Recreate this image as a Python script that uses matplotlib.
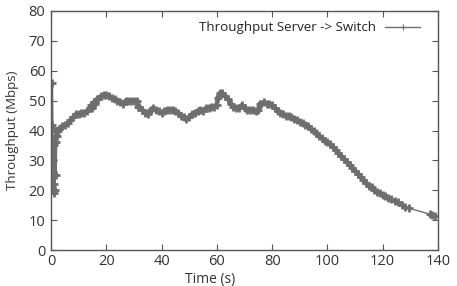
import matplotlib
matplotlib.use("Agg")
import matplotlib.pyplot as plt

# Data
time_s = [0.3, 0.5, 0.6, 0.7, 0.8, 0.9, 1.0, 1.1, 1.2, 1.3, 1.5, 1.7, 1.9, 2.0, 2.2,
          2.5, 3, 4, 5, 6, 7, 8, 9, 10, 11, 12, 13, 14, 14.5, 15, 15.5, 16, 16.5, 17, 18,
          19, 20, 21, 22, 23, 24, 25, 26, 27, 28, 29, 30, 31, 31.5, 32, 33, 34, 35, 36,
          37, 38, 39, 40, 41, 42, 43, 44, 45, 46, 47, 48, 49, 50, 51, 52, 53, 54, 55, 56,
          57, 58, 59, 60, 60.3, 61, 62, 63, 64, 65, 66, 67, 68, 69, 70, 71, 72, 73, 74, 75,
          75.5, 76, 77, 78, 79, 80, 81, 82, 83, 84, 85, 86, 87, 88, 89, 90, 91, 92, 93, 94,
          95, 96, 97, 98, 99, 100, 101, 102, 103, 104, 105, 106, 107, 108, 109, 110, 111,
          112, 113, 114, 115, 116, 117, 118, 119, 120, 121, 122, 123, 124.5, 125.5, 127,
          128, 129.5, 137, 138, 139]
throughput = [42, 56, 41, 30, 20, 25, 19, 35, 22, 38, 20, 36, 25, 38, 40,
              40, 40.5, 41.5, 42, 42.5, 43.5, 44.5, 45.5, 45.5, 46, 46, 46.5, 47.5, 48.5, 47.5, 49.5, 49, 50.5, 50.5, 51.5,
              52, 52, 51.5, 51, 50.5, 50, 49.5, 49, 50, 50, 50, 50, 50, 48, 48, 47, 46, 45.5, 47,
              47.5, 47, 46.5, 46, 46.5, 47, 47, 47, 46.5, 46, 45, 44.5, 44, 44.5, 45.5, 46, 46.5, 47, 46.5, 47.5,
              47.5, 48, 48, 48.5, 51, 52.5, 52.5, 51.5, 50.5, 49, 48, 47.5, 47.5, 48.5, 47.5, 47, 47, 47, 46.5, 47,
              49, 49, 49.5, 49, 49, 48.5, 47.5, 46.5, 46, 45.5, 45, 45, 44.5, 44, 43.5, 43, 42.5, 42, 41.5, 40.5,
              40, 39, 38, 37.5, 36.5, 36, 35.5, 34.5, 33.5, 32.5, 31.5, 30.5, 29.5, 28.5, 27.5, 26.5, 25.5,
              24.5, 23.5, 22.5, 21.5, 21, 20, 19.5, 19, 18.5, 18, 17.5, 17, 16.5, 16, 15,
              14.5, 14, 12, 11.8, 11.5]
series_label = "Throughput Server -> Switch"
x_ticks = [0, 20, 40, 60, 80, 100, 120, 140]
y_ticks = [0, 10, 20, 30, 40, 50, 60, 70, 80]
dense_until = 116  # samples are very dense (overlapping) before this time

plt.rcParams['font.family'] = ['Open Sans', 'DejaVu Sans']

fig = plt.figure(figsize=(4.57, 2.86), dpi=100)
ax = fig.add_axes([51/457, 1 - 250/286, 387/457, 239/286])

line_color = '#6e6e6e'
n_dense = sum(1 for t in time_s if t <= dense_until)
# dense region: overlapping markers form a thick band
ax.plot(time_s[15:n_dense], throughput[15:n_dense], color=line_color, lw=3.2,
        solid_capstyle='round', solid_joinstyle='round')
ax.plot(time_s[:15], throughput[:15], color=line_color, lw=1.0)
ax.plot(time_s, throughput, color=line_color, lw=1.0, marker='+', ms=6, mew=2.0,
        label=series_label)

ax.set_xlim(0, 140)
ax.set_ylim(0, 80)
ax.set_xticks(x_ticks)
ax.set_yticks(y_ticks)
ax.tick_params(direction='in', top=True, right=True, length=4, width=0.8,
               colors='#555555', labelcolor='#333333', labelsize=10.5, pad=4)
ax.tick_params(axis='x', pad=3)
for s in ax.spines.values():
    s.set_color('#555555')
    s.set_linewidth(1.0)

ax.set_xlabel('Time (s)', fontsize=10, color='#333333')
ax.xaxis.set_label_coords(0.41, -0.09)
ax.set_ylabel('Throughput (Mbps)', fontsize=9.5, color='#333333')
ax.yaxis.set_label_coords(-0.082, 0.5)

leg = ax.legend(loc='upper right', bbox_to_anchor=(0.974, 0.99), frameon=False,
                fontsize=9.6, markerfirst=False, handlelength=2.6,
                borderaxespad=0.2, handletextpad=0.7)
for h in leg.legend_handles:
    h.set_markersize(5)
    h.set_markeredgewidth(0.8)
for t in leg.get_texts():
    t.set_color('#222222')

fig.savefig('out.png', dpi=100)
